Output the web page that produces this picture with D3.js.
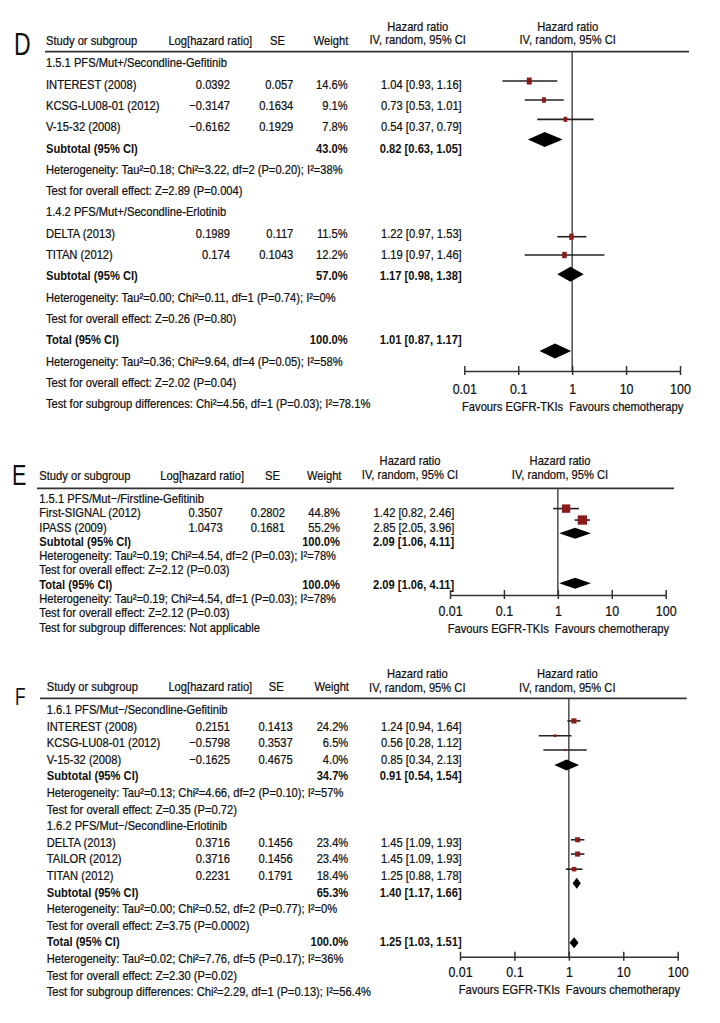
<!DOCTYPE html>
<html><head><meta charset="utf-8">
<script src="https://cdn.jsdelivr.net/npm/d3@7"></script>
<style>body{margin:0;background:#fff}</style>
</head><body>
<svg id="c" width="720" height="1023"></svg>
<script>
// ---------------- data ----------------
const hrTicks = [0.01, 0.1, 1, 10, 100];
const hrTickLabels = ["0.01", "0.1", "1", "10", "100"];
const colHeaders = ["Study or subgroup", "Log[hazard ratio]", "SE", "Weight"];
const hrHeader = ["Hazard ratio", "IV, random, 95% CI"];
const favours = ["Favours EGFR-TKIs", "Favours chemotherapy"];

// Panel D
const dLabels = ["1.5.1 PFS/Mut+/Secondline-Gefitinib", "INTEREST (2008)", "KCSG-LU08-01 (2012)", "V-15-32 (2008)", "Subtotal (95% CI)",
  "Heterogeneity: Tau²=0.18; Chi²=3.22, df=2 (P=0.20); I²=38%", "Test for overall effect: Z=2.89 (P=0.004)",
  "1.4.2 PFS/Mut+/Secondline-Erlotinib", "DELTA (2013)", "TITAN (2012)", "Subtotal (95% CI)",
  "Heterogeneity: Tau²=0.00; Chi²=0.11, df=1 (P=0.74); I²=0%", "Test for overall effect: Z=0.26 (P=0.80)",
  "Total (95% CI)", "Heterogeneity: Tau²=0.36; Chi²=9.64, df=4 (P=0.05); I²=58%", "Test for overall effect: Z=2.02 (P=0.04)",
  "Test for subgroup differences: Chi²=4.56, df=1 (P=0.03); I²=78.1%"];
const dKinds = ["g","s","s","s","b","n","n","g","s","s","b","n","n","t","n","n","n"];
const dLogHR = ["","0.0392","−0.3147","−0.6162","","","","","0.1989","0.174","","","","","","",""];
const dSE = ["","0.057","0.1634","0.1929","","","","","0.117","0.1043","","","","","","",""];
const dWeight = ["","14.6%","9.1%","7.8%","43.0%","","","","11.5%","12.2%","57.0%","","","100.0%","","",""];
const dCI = ["","1.04 [0.93, 1.16]","0.73 [0.53, 1.01]","0.54 [0.37, 0.79]","0.82 [0.63, 1.05]","","","",
  "1.22 [0.97, 1.53]","1.19 [0.97, 1.46]","1.17 [0.98, 1.38]","","","1.01 [0.87, 1.17]","","",""];
// plotted marks as drawn in the picture (row position, estimate, CI)
const dMarkRow = [0.86, 1.75, 2.66, 3.6, 8.17, 9.03, 9.93, 13.54];
const dMarkKind = ["s","s","s","d","s","s","d","d"];
const dMarkEst = [0.16, 0.30, 0.75, 0.31, 0.97, 0.72, 0.93, 0.48];
const dMarkLo = [0.051, 0.132, 0.225, 0.151, 0.53, 0.132, 0.53, 0.248];
const dMarkHi = [0.53, 0.70, 2.51, 0.67, 1.84, 3.96, 1.64, 0.96];
const dMarkWeight = [14.6, 9.1, 7.8, null, 11.5, 12.2, null, null];

// Panel E
const eLabels = ["1.5.1 PFS/Mut−/Firstline-Gefitinib", "First-SIGNAL (2012)", "IPASS (2009)", "Subtotal (95% CI)",
  "Heterogeneity: Tau²=0.19; Chi²=4.54, df=2 (P=0.03); I²=78%", "Test for overall effect: Z=2.12 (P=0.03)",
  "Total (95% CI)", "Heterogeneity: Tau²=0.19; Chi²=4.54, df=1 (P=0.03); I²=78%", "Test for overall effect: Z=2.12 (P=0.03)",
  "Test for subgroup differences: Not applicable"];
const eKinds = ["g","s","s","b","n","n","t","n","n","n"];
const eLogHR = ["","0.3507","1.0473","","","","","","",""];
const eSE = ["","0.2802","0.1681","","","","","","",""];
const eWeight = ["","44.8%","55.2%","100.0%","","","100.0%","","",""];
const eCI = ["","1.42 [0.82, 2.46]","2.85 [2.05, 3.96]","2.09 [1.06, 4.11]","","","2.09 [1.06, 4.11]","","",""];
const eMarkRow = [0.72, 1.52, 2.45, 5.94];
const eMarkKind = ["s","s","d","d"];
const eMarkEst = [1.42, 2.85, 2.09, 2.09];
const eMarkLo = [0.82, 2.05, 1.06, 1.06];
const eMarkHi = [2.46, 3.96, 4.11, 4.11];
const eMarkWeight = [44.8, 55.2, null, null];

// Panel F
const fLabels = ["1.6.1 PFS/Mut−/Secondline-Gefitinib", "INTEREST (2008)", "KCSG-LU08-01 (2012)", "V-15-32 (2008)", "Subtotal (95% CI)",
  "Heterogeneity: Tau²=0.13; Chi²=4.66, df=2 (P=0.10); I²=57%", "Test for overall effect: Z=0.35 (P=0.72)",
  "1.6.2 PFS/Mut−/Secondline-Erlotinib", "DELTA (2013)", "TAILOR (2012)", "TITAN (2012)", "Subtotal (95% CI)",
  "Heterogeneity: Tau²=0.00; Chi²=0.52, df=2 (P=0.77); I²=0%", "Test for overall effect: Z=3.75 (P=0.0002)",
  "Total (95% CI)", "Heterogeneity: Tau²=0.02; Chi²=7.76, df=5 (P=0.17); I²=36%", "Test for overall effect: Z=2.30 (P=0.02)",
  "Test for subgroup differences: Chi²=2.29, df=1 (P=0.13); I²=56.4%"];
const fKinds = ["g","s","s","s","b","n","n","g","s","s","s","b","n","n","t","n","n","n"];
const fLogHR = ["","0.2151","−0.5798","−0.1625","","","","","0.3716","0.3716","0.2231","","","","","","",""];
const fSE = ["","0.1413","0.3537","0.4675","","","","","0.1456","0.1456","0.1791","","","","","","",""];
const fWeight = ["","24.2%","6.5%","4.0%","34.7%","","","","23.4%","23.4%","18.4%","65.3%","","","100.0%","","",""];
const fCI = ["","1.24 [0.94, 1.64]","0.56 [0.28, 1.12]","0.85 [0.34, 2.13]","0.91 [0.54, 1.54]","","","",
  "1.45 [1.09, 1.93]","1.45 [1.09, 1.93]","1.25 [0.88, 1.78]","1.40 [1.17, 1.66]","","","1.25 [1.03, 1.51]","","",""];
const fMarkRow = [0.70, 1.59, 2.45, 3.36, 7.86, 8.72, 9.63, 10.48, 14.06];
const fMarkKind = ["s","s","s","d","s","s","s","d","d"];
const fMarkEst = [1.24, 0.56, 0.85, 0.91, 1.45, 1.45, 1.25, 1.40, 1.25];
const fMarkLo = [0.94, 0.28, 0.34, 0.54, 1.09, 1.09, 0.88, 1.17, 1.03];
const fMarkHi = [1.64, 1.12, 2.13, 1.54, 1.93, 1.93, 1.78, 1.66, 1.51];
const fMarkWeight = [24.2, 6.5, 4.0, null, 23.4, 23.4, 18.4, null, null];

// ---------------- layout / style ----------------
const FONT = "'Liberation Sans',Arial,sans-serif";
const FS = 13;
const TXT = "#111";
const SQ = "#8b1a1a";
const svg = d3.select("#c");

// horizontal compression so the regular sans matches the condensed original
const probe = svg.append("text").attr("font-family", FONT).attr("font-size", FS)
  .text("Heterogeneity: Tau²=0.18; Chi²=3.22, df=2 (P=0.20); I²=38%");
const SX = 297 / probe.node().getComputedTextLength();
probe.remove();

const layouts = {
  D: {letter: "D", letterX: 14, letterY: 55, letterSize: 32, headY: 40, hrHeadY: [26, 39.3], ruleY: 51.7, ruleX: [45, 689],
      row0: 62.7, rowDy: 21.3, axisY: 371, tickY: 389, favY: 406.7, xRange: [464.3, 680],
      colName: 46, colLog: 230, colSE: 293.3, colW: 347.7, colCI: 461.7,
      headC: [210.3, 277.5, 331], hrHeadC: [417.7, 567.7], sqK: 1.3, sqAspect: 1.4, diaH: 15},
  E: {letter: "E", letterX: 12, letterY: 485, letterSize: 30, headY: 475, hrHeadY: [460.7, 474.3], ruleY: 488.3, ruleX: [37, 674],
      row0: 498.3, rowDy: 14.3, axisY: 595, tickY: 610.7, favY: 628.3, xRange: [450, 665.7],
      colName: 39.3, colLog: 222.7, colSE: 285, colW: 340, colCI: 454.3,
      headC: [202.2, 272.5, 324.2], hrHeadC: [410, 560], sqK: 1.25, sqAspect: 1, diaH: 11},
  F: {letter: "F", letterX: 15, letterY: 705, letterSize: 24, headY: 686.7, hrHeadY: [673.3, 687.3], ruleY: 698.3, ruleX: [40, 686.7],
      row0: 709.3, rowDy: 16.6, axisY: 956.7, tickY: 971.7, favY: 989.3, xRange: [460, 677.7],
      colName: 46.7, colLog: 230, colSE: 292.7, colW: 348.3, colCI: 461.7,
      headC: [210.3, 276.3, 331.7], hrHeadC: [417.3, 567.3], sqK: 1.05, sqAspect: 1, diaH: 11}
};

function txt(g, x, y, s, anchor, opts = {}) {
  const t = g.append("text").attr("transform", `translate(${x},${y}) scale(${SX},1)`).attr("dy", "0.36em")
    .attr("text-anchor", anchor).attr("font-family", FONT)
    .attr("font-size", opts.size || FS).attr("font-weight", opts.bold ? "bold" : "normal")
    .attr("fill", TXT).text(s);
  if (!opts.bold) t.attr("stroke", TXT).attr("stroke-width", 0.25);
  return t;
}

function drawPanel(L, labels, kinds, logHR, se, weight, ci, mRow, mKind, mEst, mLo, mHi, mW) {
  const g = svg.append("g");
  const x = d3.scaleLog().domain([hrTicks[0], hrTicks[hrTicks.length - 1]]).range(L.xRange);
  const y = d3.scaleLinear().domain([0, 1]).range([L.row0, L.row0 + L.rowDy]);

  // panel letter
  g.append("text").attr("transform", `translate(${L.letterX},${L.letterY}) scale(0.72,1)`).attr("font-family", FONT)
    .attr("font-size", L.letterSize).attr("fill", "#111").text(L.letter);

  // headers
  txt(g, L.colName, L.headY, colHeaders[0], "start");
  txt(g, L.headC[0], L.headY, colHeaders[1], "middle");
  txt(g, L.headC[1], L.headY, colHeaders[2], "middle");
  txt(g, L.headC[2], L.headY, colHeaders[3], "middle");
  L.hrHeadC.forEach(cx => {
    txt(g, cx, L.hrHeadY[0], hrHeader[0], "middle");
    txt(g, cx, L.hrHeadY[1], hrHeader[1], "middle");
  });
  g.append("line").attr("x1", L.ruleX[0]).attr("x2", L.ruleX[1]).attr("y1", L.ruleY).attr("y2", L.ruleY)
    .attr("stroke", "#333").attr("stroke-width", 1.8);

  // rows
  labels.forEach((lab, i) => {
    const yy = y(i);
    const bold = kinds[i] === "b" || kinds[i] === "t";
    txt(g, L.colName, yy, lab, "start", {bold});
    if (logHR[i]) txt(g, L.colLog, yy, logHR[i], "end");
    if (se[i]) txt(g, L.colSE, yy, se[i], "end");
    if (weight[i]) txt(g, L.colW, yy, weight[i], "end", {bold});
    if (ci[i]) txt(g, L.colCI, yy, ci[i], "end", {bold});
  });

  // null line
  g.append("line").attr("x1", x(1)).attr("x2", x(1)).attr("y1", L.ruleY).attr("y2", L.axisY)
    .attr("stroke", "#333").attr("stroke-width", 1.3);

  // marks
  mRow.forEach((r, i) => {
    const yy = y(r);
    if (mKind[i] === "s") {
      g.append("line").attr("x1", x(mLo[i])).attr("x2", x(mHi[i])).attr("y1", yy).attr("y2", yy)
        .attr("stroke", "#222").attr("stroke-width", 1.6);
      const w = L.sqK * Math.sqrt(mW[i]);
      const h = w * L.sqAspect;
      g.append("rect").attr("x", x(mEst[i]) - w / 2).attr("y", yy - h / 2).attr("width", w).attr("height", h)
        .attr("fill", SQ);
    } else {
      const h = L.diaH / 2;
      const pts = [[x(mLo[i]), yy], [x(mEst[i]), yy - h], [x(mHi[i]), yy], [x(mEst[i]), yy + h]];
      g.append("polygon").attr("points", pts.map(p => p.join(",")).join(" ")).attr("fill", "#000");
    }
  });

  // axis
  const axis = d3.axisBottom(x).tickValues(hrTicks).tickFormat((d, i) => hrTickLabels[i])
    .tickSizeOuter(0).tickSizeInner(4);
  const ag = g.append("g").attr("transform", `translate(0,${L.axisY})`).call(axis);
  ag.select(".domain").attr("stroke", "#333").attr("stroke-width", 1.5);
  ag.selectAll(".tick line").attr("y1", -5).attr("y2", 4).attr("stroke", "#333").attr("stroke-width", 1.5);
  ag.selectAll(".tick text").attr("y", 0).attr("dy", "0.36em")
    .attr("transform", `translate(0,${L.tickY - L.axisY}) scale(${SX},1)`)
    .attr("font-family", FONT).attr("font-size", 14.5).attr("fill", TXT)
    .attr("stroke", TXT).attr("stroke-width", 0.25);

  // favours
  txt(g, x(1) - 9, L.favY, favours[0], "end", {size: 13});
  txt(g, x(1) - 3, L.favY, favours[1], "start", {size: 13});
}

drawPanel(layouts.D, dLabels, dKinds, dLogHR, dSE, dWeight, dCI, dMarkRow, dMarkKind, dMarkEst, dMarkLo, dMarkHi, dMarkWeight);
drawPanel(layouts.E, eLabels, eKinds, eLogHR, eSE, eWeight, eCI, eMarkRow, eMarkKind, eMarkEst, eMarkLo, eMarkHi, eMarkWeight);
drawPanel(layouts.F, fLabels, fKinds, fLogHR, fSE, fWeight, fCI, fMarkRow, fMarkKind, fMarkEst, fMarkLo, fMarkHi, fMarkWeight);
</script>
</body></html>
